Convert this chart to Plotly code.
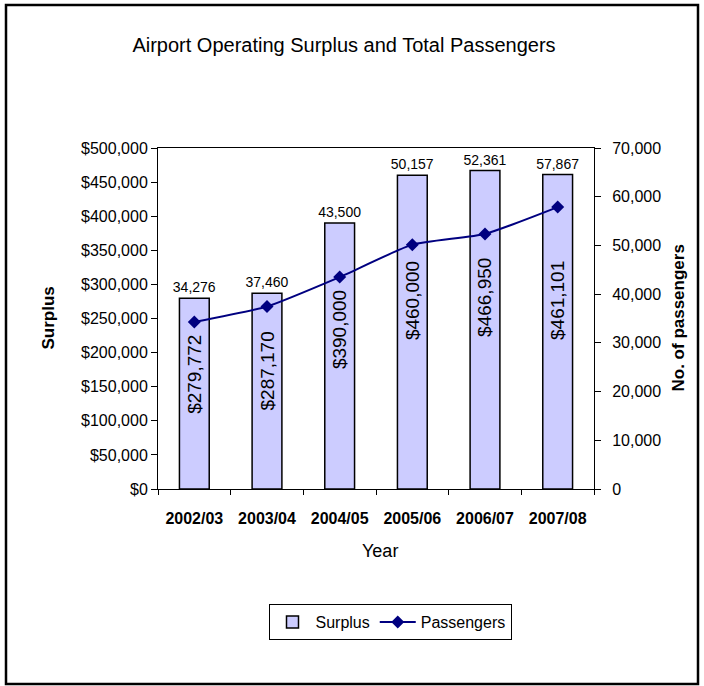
import plotly.graph_objects as go

years = ["2002/03", "2003/04", "2004/05", "2005/06", "2006/07", "2007/08"]
surplus = [279772, 287170, 390000, 460000, 466950, 461101]
passengers = [34276, 37460, 43500, 50157, 52361, 57867]

W, H = 704, 686
L, R, T, B = 158, 110, 148, 197
PW, PH = W - L - R, H - T - B

def px_x(x):
    return (x - L) / PW

def px_y(y):
    return (H - B - y) / PH

FONT = "Liberation Sans, Arial, sans-serif"
LABEL_FRAC = 0.6

fig = go.Figure()
fig.add_trace(go.Bar(
    x=years, y=surplus, name="Surplus",
    marker=dict(color="#CCCCFF", line=dict(color="black", width=1.5)),
    width=0.41,
    text=[f"{p:,}" for p in passengers], textposition="outside",
    constraintext="none",
    textfont=dict(family=FONT, size=14, color="black"),
    cliponaxis=False,
))
fig.add_trace(go.Scatter(
    x=years, y=passengers, name="Passengers", yaxis="y2",
    mode="lines+markers",
    line=dict(color="#000080", width=2, shape="spline", smoothing=0.5),
    marker=dict(symbol="diamond", size=10, color="#000080"),
))

for yr, s in zip(years, surplus):
    fig.add_annotation(x=yr, y=s * LABEL_FRAC, xref="x", yref="y",
                       text=f"${s:,}", textangle=-90, showarrow=False,
                       yanchor="middle", xanchor="center",
                       font=dict(family=FONT, size=19, color="black"))

# axis titles
fig.add_annotation(x=px_x(48), y=0.5, xref="paper", yref="paper", text="<b>Surplus</b>",
                   textangle=-90, showarrow=False, xanchor="center", yanchor="middle",
                   font=dict(family=FONT, size=17, color="black"))
fig.add_annotation(x=px_x(678), y=0.5, xref="paper", yref="paper", text="<b>No. of passengers</b>",
                   textangle=-90, showarrow=False, xanchor="center", yanchor="middle",
                   font=dict(family=FONT, size=17, color="black"))
fig.add_annotation(x=px_x(380), y=px_y(551), xref="paper", yref="paper", text="Year",
                   showarrow=False, xanchor="center", yanchor="middle",
                   font=dict(family=FONT, size=18, color="black"))

# outer frame
fig.add_shape(type="rect", xref="paper", yref="paper",
              x0=px_x(6), x1=px_x(698), y0=px_y(684), y1=px_y(5),
              line=dict(color="black", width=2.5), layer="below")

fig.update_layout(
    width=W, height=H,
    margin=dict(l=L, r=R, t=T, b=B),
    paper_bgcolor="white", plot_bgcolor="white",
    font=dict(family=FONT, size=16, color="black"),
    title=dict(text="Airport Operating Surplus and Total Passengers",
               x=344 / W, xanchor="center", y=1 - 45 / H, yanchor="middle",
               yref="container", font=dict(family=FONT, size=20, color="black")),
    showlegend=True,
    legend=dict(orientation="h", x=px_x(390), xanchor="center", y=px_y(604), yanchor="top",
                bordercolor="black", borderwidth=1, bgcolor="white",
                font=dict(family=FONT, size=16, color="black"), itemwidth=36),
    xaxis=dict(type="category", showline=True, linecolor="black", linewidth=1, mirror=True,
               ticks="outside", ticklen=5, tickcolor="black", tickson="boundaries",
               tickfont=dict(family=FONT, size=16, color="black", weight="bold"),
               ticklabelstandoff=15, showgrid=False),
    yaxis=dict(range=[0, 500000], dtick=50000, tickprefix="$", tickformat=",d",
               showline=True, linecolor="black", linewidth=1, ticks="outside", ticklen=6,
               tickcolor="black", showgrid=False, zeroline=False,
               tickfont=dict(family=FONT, size=16, color="black")),
    yaxis2=dict(range=[0, 70000], dtick=10000, tickformat=",d", overlaying="y", side="right",
                showline=True, linecolor="black", linewidth=1, ticks="outside", ticklen=6,
                tickcolor="black", showgrid=False, zeroline=False,
                ticklabelstandoff=8,
                tickfont=dict(family=FONT, size=16, color="black")),
    bargap=0.59,
)

fig.write_html("out.html", config={"displayModeBar": False},
               post_script="document.body.style.margin='0';")
